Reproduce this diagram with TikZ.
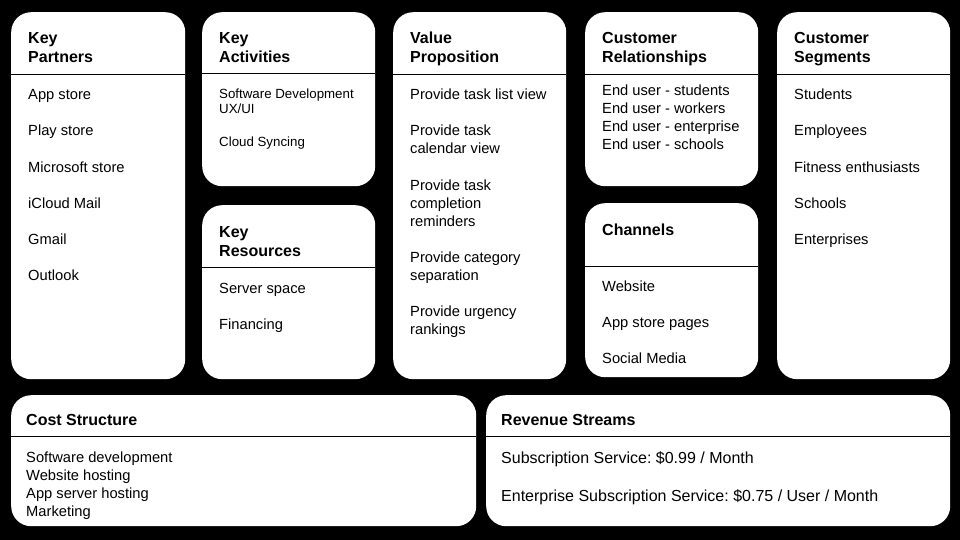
\documentclass[tikz,border=0pt]{standalone}
\usepackage{fontspec}
\setmainfont{Liberation Sans}
\frenchspacing
\begin{document}
\begin{tikzpicture}[x=1pt,y=-1pt,
                    block/.style={fill=white,draw=none,rounded corners=20pt,inner sep=0pt,anchor=north west},
                    rule/.style={black,line width=1pt},
                    head/.style={anchor=base west,inner sep=0pt,font=\fontsize{16}{19}\selectfont\bfseries},
                    item/.style={anchor=base west,inner sep=0pt,font=\fontsize{14.7}{18}\selectfont},
                    small/.style={item,font=\fontsize{13.3}{15}\selectfont},
                    wide/.style={item,font=\fontsize{16}{19}\selectfont}]

  % black page
  \fill[black] (0,0) rectangle (960,540);
  \useasboundingbox (0,0) rectangle (960,540);

  % blocks
  \node[block,minimum width=174pt,minimum height=367pt] (kp)   at (11,12)  {};
  \node[block,minimum width=173pt,minimum height=174pt] (ka)   at (202,12) {};
  \node[block,minimum width=173pt,minimum height=174pt] (kr)   at (202,205) {};
  \node[block,minimum width=173pt,minimum height=367pt] (vp)   at (393,12) {};
  \node[block,minimum width=173pt,minimum height=174pt] (cr)   at (585,12) {};
  \node[block,minimum width=173pt,minimum height=174pt] (ch)   at (585,203) {};
  \node[block,minimum width=173pt,minimum height=367pt] (cs)   at (777,12) {};
  \node[block,minimum width=465pt,minimum height=131pt] (cost) at (11,395) {};
  \node[block,minimum width=464pt,minimum height=131pt] (rev)  at (486,395) {};

  % header rules
  \draw[rule] (kp.west |- 0,75)    -- (kp.east |- 0,75);
  \draw[rule] (ka.west |- 0,74)    -- (ka.east |- 0,74);
  \draw[rule] (kr.west |- 0,267)   -- (kr.east |- 0,267);
  \draw[rule] (vp.west |- 0,75)    -- (vp.east |- 0,75);
  \draw[rule] (cr.west |- 0,75)    -- (cr.east |- 0,75);
  \draw[rule] (ch.west |- 0,266)   -- (ch.east |- 0,266);
  \draw[rule] (cs.west |- 0,75)    -- (cs.east |- 0,75);
  \draw[rule] (cost.west |- 0,436) -- (cost.east |- 0,436);
  \draw[rule] (rev.west |- 0,436)  -- (rev.east |- 0,436);

  % titles
  \node[head] (kpA) at (28,44)   {Key};
  \node[head] (kpB) at (28,63)   {Partners};
  \node[head] (kaA) at (219,44)  {Key};
  \node[head] (kaB) at (219,63)  {Activities};
  \node[head] (krA) at (219,237) {Key};
  \node[head] (krB) at (219,256) {Resources};
  \node[head] (vpA) at (410,44)  {Value};
  \node[head] (vpB) at (410,63)  {Proposition};
  \node[head] (crA) at (602,44)  {Customer};
  \node[head] (crB) at (602,63)  {Relationships};
  \node[head] (chA) at (602,235) {Channels};
  \node[head] (csA) at (794,44)  {Customer};
  \node[head] (csB) at (794,63)  {Segments};
  \node[head] (coA) at (26,425)  {Cost Structure};
  \node[head] (rvA) at (501,425) {Revenue Streams};

  % entries
  \foreach \yy/\txt [count=\i] in {100/App store,136/Play store,172/Microsoft store,
                                   208/iCloud Mail,244/Gmail,280/Outlook}
    \node[item] (kp\i) at (28,\yy) {\txt};
  \foreach \yy/\txt [count=\i] in {99/Software Development,114/{UX/UI},147/Cloud Syncing}
    \node[small] (ka\i) at (219,\yy) {\txt};
  \foreach \yy/\txt [count=\i] in {293/Server space,329/Financing}
    \node[item] (kr\i) at (219,\yy) {\txt};
  \foreach \yy/\txt [count=\i] in {100/Provide task list view,136/Provide task,154/calendar view,
                                   190/Provide task,208/completion,226/reminders,
                                   262/Provide category,280/separation,
                                   316/Provide urgency,334/rankings}
    \node[item] (vp\i) at (410,\yy) {\txt};
  \foreach \yy/\txt [count=\i] in {96/End user - students,114/End user - workers,
                                   132/End user - enterprise,150/End user - schools}
    \node[item] (cr\i) at (602,\yy) {\txt};
  \foreach \yy/\txt [count=\i] in {291/Website,327/App store pages,363/Social Media}
    \node[item] (ch\i) at (602,\yy) {\txt};
  \foreach \yy/\txt [count=\i] in {100/Students,136/Employees,172/Fitness enthusiasts,
                                   208/Schools,244/Enterprises}
    \node[item] (cs\i) at (794,\yy) {\txt};
  \foreach \yy/\txt [count=\i] in {462/Software development,480/Website hosting,
                                   498/App server hosting,516/Marketing}
    \node[item] (co\i) at (26,\yy) {\txt};
  \node[wide] (rv1) at (501,463) {Subscription Service: \$0.99 / Month};
  \node[wide] (rv2) at (501,501) {Enterprise Subscription Service: \$0.75 / User / Month};
\end{tikzpicture}
\end{document}
